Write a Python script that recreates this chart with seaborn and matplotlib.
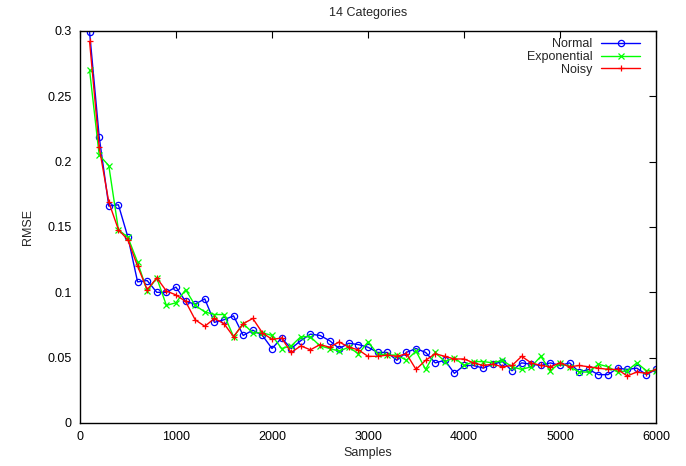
import matplotlib
matplotlib.use("Agg")
import matplotlib.pyplot as plt
import seaborn as sns
import pandas as pd
from matplotlib.ticker import MultipleLocator

samples = [100, 200, 300, 400, 500, 600, 700, 800, 900, 1000,
           1100, 1200, 1300, 1400, 1500, 1600, 1700, 1800, 1900, 2000,
           2100, 2200, 2300, 2400, 2500, 2600, 2700, 2800, 2900, 3000,
           3100, 3200, 3300, 3400, 3500, 3600, 3700, 3800, 3900, 4000,
           4100, 4200, 4300, 4400, 4500, 4600, 4700, 4800, 4900, 5000,
           5100, 5200, 5300, 5400, 5500, 5600, 5700, 5800, 5900, 6000]

normal = [0.299, 0.219, 0.166, 0.167, 0.142, 0.108, 0.109, 0.100, 0.100, 0.104,
          0.093, 0.091, 0.095, 0.077, 0.079, 0.082, 0.067, 0.071, 0.067, 0.057,
          0.065, 0.057, 0.063, 0.068, 0.067, 0.063, 0.057, 0.061, 0.060, 0.058,
          0.054, 0.054, 0.048, 0.054, 0.057, 0.054, 0.046, 0.048, 0.038, 0.044,
          0.044, 0.042, 0.045, 0.047, 0.040, 0.046, 0.045, 0.044, 0.046, 0.044,
          0.046, 0.039, 0.041, 0.037, 0.037, 0.042, 0.041, 0.042, 0.037, 0.041]

exponential = [0.270, 0.205, 0.197, 0.148, 0.142, 0.123, 0.101, 0.111, 0.090, 0.092,
               0.102, 0.090, 0.085, 0.083, 0.083, 0.066, 0.076, 0.069, 0.069, 0.067,
               0.057, 0.059, 0.066, 0.066, 0.059, 0.057, 0.055, 0.058, 0.053, 0.062,
               0.053, 0.052, 0.052, 0.048, 0.055, 0.041, 0.054, 0.047, 0.050, 0.044,
               0.047, 0.047, 0.046, 0.048, 0.043, 0.041, 0.043, 0.051, 0.040, 0.046,
               0.043, 0.039, 0.039, 0.045, 0.043, 0.039, 0.040, 0.046, 0.040, 0.040]

noisy = [0.292, 0.211, 0.169, 0.148, 0.140, 0.120, 0.102, 0.111, 0.101, 0.098,
         0.093, 0.079, 0.074, 0.080, 0.076, 0.066, 0.076, 0.080, 0.069, 0.064,
         0.065, 0.054, 0.059, 0.056, 0.060, 0.058, 0.062, 0.058, 0.056, 0.051,
         0.051, 0.052, 0.051, 0.053, 0.041, 0.048, 0.053, 0.051, 0.049, 0.049,
         0.046, 0.044, 0.045, 0.043, 0.044, 0.051, 0.046, 0.044, 0.043, 0.046,
         0.043, 0.044, 0.043, 0.042, 0.041, 0.041, 0.036, 0.039, 0.038, 0.041]

series_names = ["Normal", "Exponential", "Noisy"]
series_values = [normal, exponential, noisy]
series_colors = ["#0000ff", "#00ff00", "#ff0000"]
series_markers = ["o", "x", "+"]

sns.set_theme(style="white")
plt.rcParams["font.family"] = ["Liberation Sans", "DejaVu Sans"]

fig = plt.figure(figsize=(6.86, 4.66), dpi=100)
ax = fig.add_axes([0.1166, 0.0923, 0.8397, 0.8412])

for name, vals, col, mk in zip(series_names, series_values, series_colors, series_markers):
    df = pd.DataFrame({"Samples": samples, "RMSE": vals})
    face = "none" if mk == "o" else col
    sns.lineplot(data=df, x="Samples", y="RMSE", ax=ax, color=col, linewidth=1.0,
                 marker=mk, markersize=4.5 if mk == "o" else 5,
                 markerfacecolor=face, markeredgecolor=col, markeredgewidth=0.9,
                 label=name)

ax.set_xlim(0, 6000)
ax.set_ylim(0, 0.3)
ax.xaxis.set_major_locator(MultipleLocator(1000))
ax.set_yticks([0, 0.05, 0.1, 0.15, 0.2, 0.25, 0.3])
ax.set_yticklabels(["0", "0.05", "0.1", "0.15", "0.2", "0.25", "0.3"])

ax.tick_params(axis="both", which="major", direction="in", length=5, width=0.8,
               top=True, right=True, labelsize=9, colors="black")
ax.tick_params(axis="x", pad=6)
ax.tick_params(axis="y", pad=6)
for sp in ax.spines.values():
    sp.set_color("black")
    sp.set_linewidth(1.0)

ax.set_xlabel("Samples", fontsize=9, labelpad=3)
ax.set_ylabel("RMSE", fontsize=9, labelpad=10)
ax.set_title("14 Categories", fontsize=9, pad=11)

leg = ax.legend(loc="upper right", frameon=False, markerfirst=False, fontsize=9,
                handlelength=3.1, handletextpad=0.7, labelspacing=0.05,
                borderaxespad=0.2, bbox_to_anchor=(0.985, 1.0))

fig.savefig("out.png", dpi=100)
